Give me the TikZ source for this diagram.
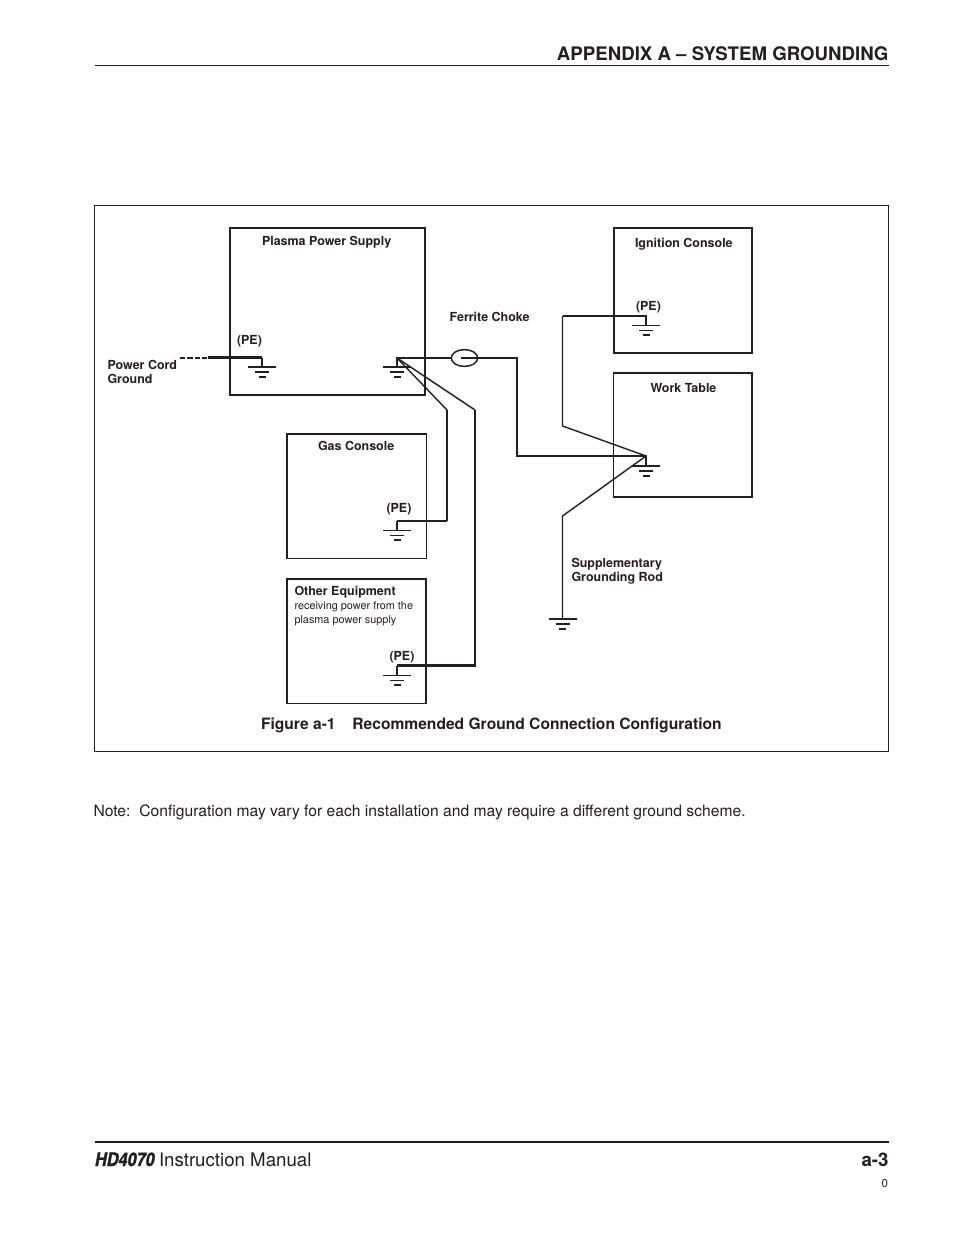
\documentclass[tikz,border=0pt]{standalone}
\usepackage{fontspec}
\usepackage{graphicx}
\setmainfont{TeX Gyre Heros}
\usetikzlibrary{shapes.geometric}
\definecolor{ink}{RGB}{35,31,32}
\tikzset{
 every node/.style={text=ink,inner sep=0pt,outer sep=0pt},
 eqbox/.style={draw=ink,rectangle,anchor=north west,line width=1.5pt},
 lbl/.style={font=\bfseries\fontsize{9.35}{11}\selectfont,anchor=base west,align=left},
 sublbl/.style={font=\fontsize{8.15}{10.5}\selectfont,anchor=base west},
 thin wire/.style={draw=ink,line width=1.05pt,line join=miter},
 thick wire/.style={draw=ink,line width=1.6pt,line join=miter},
 hair wire/.style={draw=ink,line width=1.1pt,line join=miter},
 gndsym/.pic={
  \draw[ink,line width=0.85pt] (-14,0)--(14,0);
  \draw[ink,line width=1.3pt] (-7,5)--(7,5);
  \draw[ink,line width=1.6pt] (-3.5,9.7)--(3.5,9.7);
 }
}
\begin{document}
\begin{tikzpicture}[x=0.75pt,y=-0.75pt]
\useasboundingbox (0,0) rectangle (954,1235);
\fill[white] (0,0) rectangle (954,1235);
% page furniture
\coordinate (hl) at (95,65.5); \coordinate (hr) at (888.5,65.5);
\draw[ink,line width=0.7pt] (hl)--(hr);
\node[font=\bfseries\fontsize{14}{16}\selectfont,anchor=base east] (head) at (888.5,60) {APPENDIX A – SYSTEM GROUNDING};
\coordinate (fl) at (95,1142); \coordinate (fr) at (888.5,1142);
\draw[ink,line width=1.3pt] (fl)--(fr);
\node[font=\fontsize{14}{16}\selectfont,anchor=base west] (hdname) at (95,1166) {\scalebox{0.87}[1]{\addfontfeature{FakeBold=1.6}\bfseries\itshape HD4070}};
\node[font=\fontsize{14}{16}\selectfont,anchor=base west] (foot) at (159,1166) {Instruction Manual};
\node[font=\bfseries\fontsize{14}{16}\selectfont,anchor=base east] (pg) at (888.5,1166) {a-3};
\node[font=\fontsize{8.6}{10}\selectfont,anchor=base east] (rev) at (888,1187) {0};
% frame
\node[draw=ink,rectangle,anchor=north west,line width=0.7pt,minimum width=595.5pt,minimum height=409.1pt] (frame) at (94.5,205.5) {};
% equipment boxes
\node[eqbox,minimum width=146.6pt,minimum height=125.25pt] (plasma) at (229.5,228) {};
\node[eqbox,line width=1.25pt,minimum width=104.6pt,minimum height=93.4pt] (gas) at (287,434) {};
\node[eqbox,line width=1.25pt,minimum width=104.25pt,minimum height=93.4pt] (other) at (287,579) {};
\node[eqbox,minimum width=103.9pt,minimum height=93.75pt] (ign) at (613.5,228) {};
\node[eqbox,line width=1pt,minimum width=103.9pt,minimum height=93pt] (work) at (613.5,373) {};
% labels
\node[lbl] (lplasma) at (262,245) {Plasma Power Supply};
\node[lbl] (lign) at (635,247) {Ignition Console};
\node[lbl] (lwork) at (650.5,392) {Work Table};
\node[lbl] (lgas) at (318,450) {Gas Console};
\node[lbl] (lother) at (294.5,595) {Other Equipment};
\node[sublbl] (lrecv1) at (294.5,609) {receiving power from the};
\node[sublbl] (lrecv2) at (294.5,623) {plasma power supply};
\node[lbl] (pe1) at (237,344) {(PE)};
\node[lbl] (pe2) at (636,310) {(PE)};
\node[lbl] (pe3) at (386.5,512) {(PE)};
\node[lbl] (pe4) at (389.5,660) {(PE)};
\node[lbl] (lchoke) at (449.5,321) {Ferrite Choke};
\node[lbl] (lcord1) at (107.5,369) {Power Cord};
\node[lbl] (lcord2) at (107.5,383) {Ground};
\node[lbl] (lrod1) at (571.5,567) {Supplementary};
\node[lbl] (lrod2) at (571.5,581) {Grounding Rod};
\node[font=\bfseries\fontsize{11.7}{13}\selectfont,anchor=base west] (cap) at (261,729) {Figure a-1\hspace{12.6pt}Recommended Ground Connection Configuration};
\node[font=\fontsize{11.74}{13}\selectfont,anchor=base west] (note) at (93.5,816) {Note:\hspace{6.6pt}Configuration may vary for each installation and may require a different ground scheme.};
% ground points
\coordinate (jcord) at (262,357.5); \coordinate (bcord) at (262,367);
\coordinate (jps) at (397,358);     \coordinate (bps) at (397,367);
\coordinate (jgas) at (397,521);    \coordinate (bgas) at (397,530.5);
\coordinate (joth) at (397,665.5);  \coordinate (both) at (397,675.5);
\coordinate (jign) at (646,316);    \coordinate (bign) at (646,325.5);
\coordinate (jwork) at (646,456);   \coordinate (bwork) at (646,466);
\coordinate (brod) at (562.5,619);
\pic at (bcord) {gndsym};
\pic at (bps) {gndsym};
\pic at (bgas) {gndsym};
\pic at (both) {gndsym};
\pic at (bign) {gndsym};
\pic at (bwork) {gndsym};
\pic at (brod) {gndsym};
% power cord
\coordinate (cordend) at (180,357.5);
\coordinate (cordmid) at (208,357.5);
\draw[draw=ink,line width=1.5pt,dash pattern=on 3.9pt off 1.6pt] (cordend)--(cordmid);
\draw[thick wire] (cordmid)--(jcord);
\draw[hair wire] (jcord)--(bcord);
% choke
\node[draw=ink,ellipse,line width=1.1pt,minimum width=19.8pt,minimum height=12.6pt] (choke) at (464.5,358) {};
\coordinate (chin) at (461,358);
\draw[thick wire] (bps)--(jps)--(choke.west);
\draw[thick wire] (chin)--(517,358)--(517,456)--(jwork)--(bwork);
% gas & other
\draw[thin wire] (jps)--(447,410);
\draw[thick wire] (447,410)--(447,521);
\draw[hair wire] (447,521)--(jgas);
\draw[hair wire] (jgas)--(bgas);
\draw[thin wire] (jps)--(475,410);
\draw[thick wire] (475,410)--(475,665.5)--(joth);
\draw[thick wire] (joth)--(both);
% ignition
\draw[thick wire] (bign)--(jign)--(562.5,316);
\draw[thin wire] (562.5,316)--(562.5,426)--(jwork);
% rod
\draw[thin wire] (jwork)--(562.5,516)--(brod);
\end{tikzpicture}
\end{document}
